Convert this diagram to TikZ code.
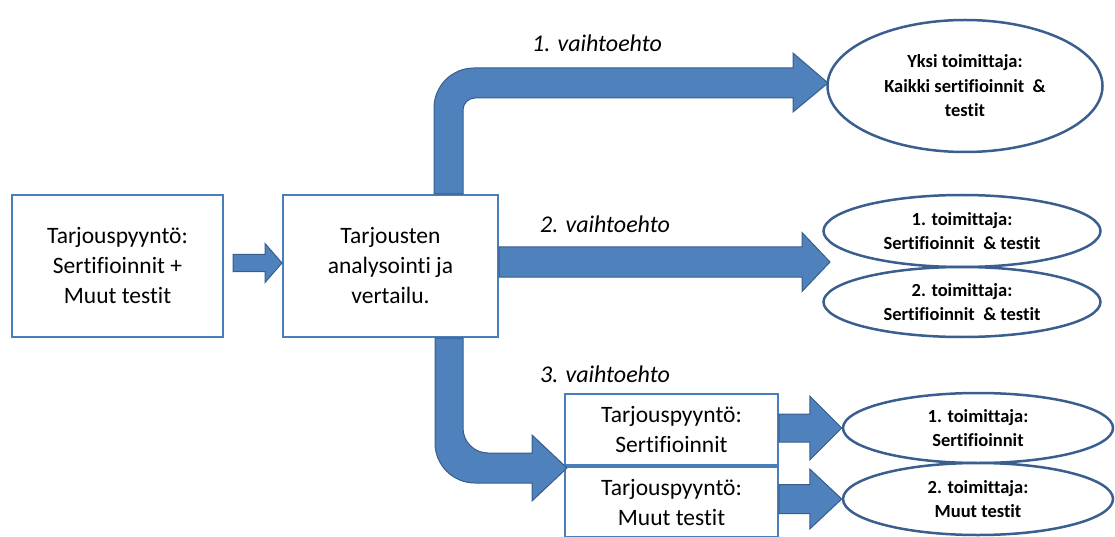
\documentclass[tikz,border=0pt]{standalone}
\usepackage{fontspec}
\setmainfont{Carlito}[Ligatures=NoCommon]
\usepackage{xcolor}
\usepackage{tikz}
\usetikzlibrary{shapes.geometric,positioning,calc}

\definecolor{nuolisin}{HTML}{4F81BD}
\definecolor{nuolireuna}{HTML}{385D8A}
\definecolor{laatikkoreuna}{HTML}{4A7EBB}
\definecolor{soikioreuna}{HTML}{3A5F8E}

\tikzset{
  laatikko/.style={draw=laatikkoreuna,line width=2pt,rectangle,fill=white,align=center,
    font=\fontsize{23.5}{30}\selectfont,inner sep=0pt},
  soikio/.style={draw=soikioreuna,line width=2.5pt,ellipse,fill=white,align=center,
    font=\fontsize{18.5}{24.5}\selectfont\bfseries,inner sep=0pt},
  otsikko/.style={font=\fontsize{24}{28}\selectfont\itshape},
  nuoli/.style={fill=nuolisin,draw=nuolireuna,line width=1pt,line join=miter}
}

% #1 alku, #2 karki, #3 varsi/2, #4 karki/2, #5 karjen pituus
\newcommand{\paksunuoli}[5]{%
  \filldraw[nuoli] let \p1=(#1), \p2=(#2) in
    (\x1,\y2+#3) -- (\x2-#5,\y2+#3) -- (\x2-#5,\y2+#4) -- (\x2,\y2)
    -- (\x2-#5,\y2-#4) -- (\x2-#5,\y2-#3) -- (\x1,\y2-#3) -- cycle;}

\begin{document}
\begin{tikzpicture}[x=1pt,y=1pt]
  \useasboundingbox (0,0) rectangle (1115,536);

  % laatikot
  \node[laatikko,minimum width=211,minimum height=142] (tarjous) at (117.5,270)
    {Tarjouspyyntö:\\Sertifioinnit +\\Muut testit};
  \node[laatikko,minimum width=215,minimum height=142] (analyysi) at (390.5,270)
    {Tarjousten\\analysointi ja\\vertailu.};
  \node[laatikko,minimum width=213,minimum height=71] (sert) at (671.5,106.5)
    {Tarjouspyyntö:\\Sertifioinnit};
  \node[laatikko,minimum width=213,minimum height=70,below=0pt of sert] (muut)
    {Tarjouspyyntö:\\Muut testit};

  % toimittajat
  \node[soikio,minimum width=275,minimum height=132] (yksi) at (965,450)
    {Yksi toimittaja:\\Kaikki sertifioinnit \ \&\\testit};
  \node[soikio,minimum width=277,minimum height=72] (kaksiA) at (962,305)
    {1. toimittaja:\\Sertifioinnit \ \& testit};
  \node[soikio,minimum width=277,minimum height=70] (kaksiB) at (962,234)
    {2. toimittaja:\\Sertifioinnit \ \& testit};
  \node[soikio,minimum width=270,minimum height=70] (kolmeA) at (978,108)
    {1. toimittaja:\\Sertifioinnit};
  \node[soikio,minimum width=270,minimum height=72] (kolmeB) at (978,37)
    {2. toimittaja:\\Muut testit};

  % vaihtoehdot
  \node[otsikko] (v1teksti) at (597,493) {1. vaihtoehto};
  \node[otsikko] (v2teksti) at (605,312) {2. vaihtoehto};
  \node[otsikko] (v3teksti) at (605,162) {3. vaihtoehto};

  \coordinate (v1) at (828,453);
  \coordinate (v2) at (830,274);
  \coordinate (v3) at (567,68);

  % nuolet
  \paksunuoli{$(tarjous.east)+(9,0)$}{$(analyysi.west)+(0,3)$}{8.5}{19.5}{17}
  \paksunuoli{analyysi.east}{v2}{15}{29.5}{28}
  \paksunuoli{sert.east}{kolmeA.west}{14}{32}{32}
  \paksunuoli{muut.east}{kolmeB.west}{14.5}{30}{32}

  \filldraw[nuoli] let \p1=(analyysi.north), \p2=(v1) in
    (\x1+43.5,\y1) -- (\x1+43.5,\y2-25) arc[start angle=180,end angle=90,radius=40]
    -- (\x2-35,\y2+15) -- (\x2-35,\y2+30) -- (\x2,\y2) -- (\x2-35,\y2-29)
    -- (\x2-35,\y2-15) -- (\x1+84.5,\y2-15) arc[start angle=90,end angle=180,radius=12]
    -- (\x1+72.5,\y1) -- cycle;

  \filldraw[nuoli] let \p1=(analyysi.south), \p2=(v3) in
    (\x1+44.5,\y1) -- (\x1+44.5,\y2+25) arc[start angle=180,end angle=270,radius=40]
    -- (\x2-35,\y2-15) -- (\x2-35,\y2-33) -- (\x2,\y2) -- (\x2-35,\y2+33)
    -- (\x2-35,\y2+15) -- (\x1+97.5,\y2+15) arc[start angle=270,end angle=180,radius=25]
    -- (\x1+72.5,\y1) -- cycle;
\end{tikzpicture}
\end{document}
